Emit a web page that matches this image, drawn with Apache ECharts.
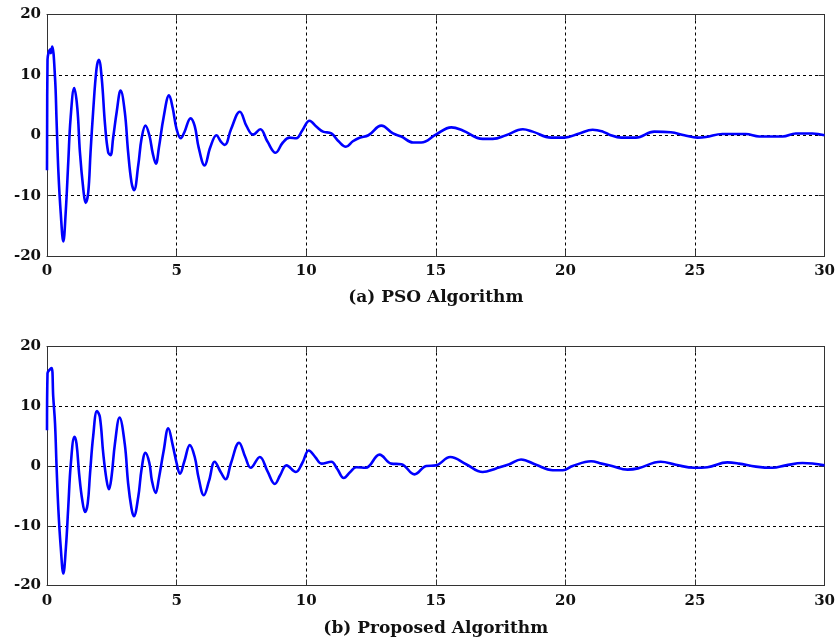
<!DOCTYPE html>
<html>
<head>
<meta charset="utf-8">
<title>PSO vs Proposed Algorithm</title>
<script src="https://cdn.jsdelivr.net/npm/echarts@6/dist/echarts.min.js"></script>
<style>
  html, body { margin: 0; padding: 0; background: #ffffff; }
  #chart { width: 838px; height: 641px; }
</style>
</head>
<body>
<div id="chart"></div>
<script>
// Response of the PSO-tuned controller (time in s, value)
const psoTime = [0, 0.02, 0.12, 0.15, 0.2, 0.31, 0.37, 0.44, 0.53, 0.63, 0.72, 0.82, 0.91, 1.05, 1.17, 1.27, 1.4, 1.49, 1.59, 1.68, 1.78, 1.91, 2.0, 2.11, 2.24, 2.36, 2.45, 2.55, 2.69, 2.84, 3.0, 3.13, 3.26, 3.36, 3.52, 3.65, 3.8, 3.95, 4.08, 4.2, 4.32, 4.5, 4.71, 4.85, 5.0, 5.16, 5.3, 5.54, 5.7, 5.85, 6.08, 6.3, 6.54, 6.7, 6.86, 7.1, 7.44, 7.7, 7.95, 8.23, 8.5, 8.82, 9.1, 9.36, 9.62, 9.85, 10.13, 10.4, 10.65, 10.97, 11.25, 11.53, 11.8, 12.06, 12.4, 12.9, 13.35, 13.67, 14.12, 14.44, 15.0, 15.6, 16.04, 16.81, 17.2, 17.71, 18.36, 18.74, 19.45, 19.96, 20.54, 21.05, 21.45, 21.7, 22.15, 22.72, 23.43, 24.07, 24.59, 25.1, 25.42, 26.06, 26.96, 27.48, 28.38, 28.89, 29.53, 30];
const psoValue = [-5.8, 12.5, 14.2, 13.6, 14.7, 9.5, 2.3, -6.1, -12.9, -17.6, -12.9, -4.5, 2.8, 7.8, 4.5, -2.8, -8.9, -11.2, -9.5, -2.8, 3.9, 11.0, 12.5, 9.5, 1.7, -2.8, -3.3, -0.5, 3.9, 7.4, 3.9, -2.8, -7.8, -9.1, -5.0, -0.5, 1.6, 0.0, -3.0, -4.7, -2.0, 3.0, 6.6, 4.5, 1.0, -0.5, 0.5, 2.8, 1.5, -2.0, -5.0, -2.0, 0.0, -1.0, -1.6, 1.0, 3.9, 1.5, 0.1, 1.0, -1.0, -2.9, -1.2, -0.4, -0.5, 0.8, 2.4, 1.4, 0.6, 0.3, -1.0, -1.9, -1.0, -0.4, 0.0, 1.6, 0.3, -0.2, -1.2, -1.2, 0.1, 1.3, 0.8, -0.6, -0.6, 0.0, 1.0, 0.6, -0.4, -0.4, 0.3, 0.9, 0.6, 0.1, -0.4, -0.4, 0.6, 0.5, 0.0, -0.4, -0.3, 0.2, 0.2, -0.2, -0.2, 0.3, 0.3, 0.0];

// Response of the controller tuned by the proposed algorithm
const propTime = [0, 0.02, 0.1, 0.18, 0.24, 0.31, 0.37, 0.44, 0.53, 0.63, 0.73, 0.82, 0.92, 1.06, 1.14, 1.24, 1.36, 1.47, 1.57, 1.66, 1.78, 1.93, 2.04, 2.17, 2.3, 2.39, 2.49, 2.62, 2.8, 3.0, 3.13, 3.26, 3.35, 3.52, 3.65, 3.8, 3.95, 4.05, 4.19, 4.32, 4.5, 4.68, 4.85, 5.0, 5.13, 5.3, 5.51, 5.7, 5.85, 6.05, 6.25, 6.47, 6.7, 6.89, 7.1, 7.41, 7.65, 7.86, 8.21, 8.5, 8.79, 9.0, 9.24, 9.6, 9.85, 10.1, 10.35, 10.59, 10.97, 11.2, 11.45, 11.7, 11.93, 12.3, 12.83, 13.28, 13.67, 14.18, 14.63, 15.0, 15.56, 16.17, 16.81, 17.33, 17.84, 18.29, 18.87, 19.51, 19.9, 20.28, 20.99, 21.4, 21.8, 22.4, 22.8, 23.68, 24.26, 24.97, 25.48, 26.25, 26.7, 27.35, 27.99, 28.5, 29.15, 30];
const propValue = [6.0, 15.5, 16.1, 16.4, 11.6, 7.1, -0.2, -7.4, -13.6, -18.0, -13.6, -6.9, 0.4, 4.9, 3.7, -1.3, -5.7, -7.7, -6.3, -1.3, 4.9, 9.2, 8.2, 2.1, -2.4, -3.9, -1.8, 3.7, 8.1, 3.7, -2.9, -7.1, -8.4, -5.2, -0.5, 2.2, 0.5, -2.5, -4.5, -2.0, 2.5, 6.3, 3.5, 0.5, -1.3, 0.8, 3.5, 1.5, -2.0, -4.9, -2.5, 0.7, -1.0, -2.2, 0.5, 3.9, 1.5, -0.3, 1.5, -0.8, -3.0, -1.5, 0.1, -1.0, 0.5, 2.6, 1.5, 0.4, 0.7, -0.5, -2.0, -1.0, -0.2, -0.3, 1.9, 0.4, 0.3, -1.4, 0.0, 0.1, 1.5, 0.3, -1.0, -0.4, 0.3, 1.1, 0.2, -0.7, -0.7, 0.0, 0.8, 0.4, 0.0, -0.6, -0.4, 0.7, 0.2, -0.3, -0.2, 0.6, 0.4, -0.1, -0.3, 0.1, 0.5, 0.1];

const panelTitles = ['(a) PSO Algorithm', '(b) Proposed Algorithm'];

const FONT = 'DejaVu Serif';
const pair = (ts, vs) => ts.map((t, i) => [t, vs[i]]);

const gridDash = { color: '#000', width: 1, type: [3, 3] };
const frameLine = { show: true, onZero: false, lineStyle: { color: '#333', width: 1 } };
const innerTick = { show: true, inside: true, length: 6, lineStyle: { color: '#333' } };

function bottomX(gridIndex, title, gap) {
  return {
    type: 'value', gridIndex, min: 0, max: 30, interval: 5,
    axisLine: frameLine, axisTick: innerTick,
    axisLabel: { color: '#111', fontFamily: FONT, fontWeight: 'bold', fontSize: 15, margin: 8 },
    splitLine: { show: true, lineStyle: gridDash },
    name: title, nameLocation: 'middle', nameGap: gap,
    nameTextStyle: { color: '#111', fontFamily: FONT, fontSize: 17, fontWeight: 'bold' }
  };
}
function topX(gridIndex) {
  return {
    type: 'value', gridIndex, position: 'top', min: 0, max: 30, interval: 5,
    axisLine: frameLine, axisTick: innerTick,
    axisLabel: { show: false }, splitLine: { show: false }
  };
}
function leftY(gridIndex) {
  return {
    type: 'value', gridIndex, min: -20, max: 20, interval: 10,
    axisLine: frameLine, axisTick: innerTick,
    axisLabel: { color: '#111', fontFamily: FONT, fontWeight: 'bold', fontSize: 15, margin: 6 },
    splitLine: { show: true, lineStyle: gridDash }
  };
}
function rightY(gridIndex) {
  return {
    type: 'value', gridIndex, position: 'right', min: -20, max: 20, interval: 10,
    axisLine: frameLine, axisTick: innerTick,
    axisLabel: { show: false }, splitLine: { show: false }
  };
}

const chart = echarts.init(document.getElementById('chart'), null, { renderer: 'canvas' });
chart.setOption({
  animation: false,
  backgroundColor: '#ffffff',
  grid: [
    { left: 47, top: 14.5, width: 779, height: 241.5 },
    { left: 47, top: 346.5, width: 779, height: 239 }
  ],
  xAxis: [bottomX(0, panelTitles[0], 33), topX(0), bottomX(1, panelTitles[1], 35), topX(1)],
  yAxis: [leftY(0), rightY(0), leftY(1), rightY(1)],
  series: [
    {
      type: 'line', xAxisIndex: 0, yAxisIndex: 0,
      data: pair(psoTime, psoValue), smooth: 0.4, showSymbol: false,
      lineStyle: { color: '#0000ff', width: 2.6 }
    },
    {
      type: 'line', xAxisIndex: 2, yAxisIndex: 2,
      data: pair(propTime, propValue), smooth: 0.4, showSymbol: false,
      lineStyle: { color: '#0000ff', width: 2.6 }
    }
  ]
});
</script>
</body>
</html>
